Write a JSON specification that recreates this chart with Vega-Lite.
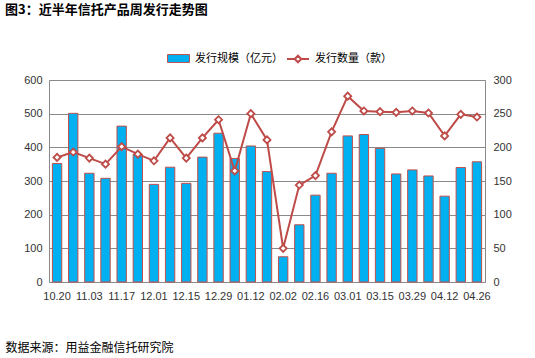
{
  "$schema": "https://vega.github.io/schema/vega-lite/v6.json",
  "width": 436,
  "height": 202,
  "autosize": {"type": "none"},
  "padding": {"left": 49, "top": 80, "right": 50, "bottom": 76},
  "background": "white",
  "config": {
    "view": {"stroke": "#8a8a8a", "strokeWidth": 1},
    "axis": {"labelFont": "Liberation Sans", "labelFontSize": 11, "labelColor": "#333333", "ticks": false, "domain": false},
    "legend": {"labelFont": "Noto Sans CJK SC", "labelFontSize": 11, "labelColor": "#000000", "labelOffset": 5, "symbolSize": 484, "title": null, "orient": "none"}
  },
  "title": {
    "text": "图3：近半年信托产品周发行走势图",
    "anchor": "start",
    "frame": "group",
    "dx": -44,
    "offset": 30,
    "font": "Noto Sans CJK SC",
    "fontSize": 13,
    "fontWeight": "bold",
    "color": "#000000"
  },
  "data": {
    "values": [
      {"week": "10.20", "scale": 352, "count": 185},
      {"week": "10.27", "scale": 501, "count": 193},
      {"week": "11.03", "scale": 323, "count": 184},
      {"week": "11.10", "scale": 308, "count": 175},
      {"week": "11.17", "scale": 463, "count": 201},
      {"week": "11.24", "scale": 379, "count": 190},
      {"week": "12.01", "scale": 290, "count": 180},
      {"week": "12.08", "scale": 341, "count": 214},
      {"week": "12.15", "scale": 293, "count": 184},
      {"week": "12.22", "scale": 371, "count": 214},
      {"week": "12.29", "scale": 442, "count": 241},
      {"week": "01.05", "scale": 367, "count": 165},
      {"week": "01.12", "scale": 404, "count": 250},
      {"week": "01.19", "scale": 328, "count": 211},
      {"week": "02.02", "scale": 75, "count": 50},
      {"week": "02.09", "scale": 170, "count": 144},
      {"week": "02.16", "scale": 258, "count": 158},
      {"week": "02.23", "scale": 323, "count": 223},
      {"week": "03.01", "scale": 434, "count": 276},
      {"week": "03.08", "scale": 438, "count": 254},
      {"week": "03.15", "scale": 397, "count": 253},
      {"week": "03.22", "scale": 321, "count": 252},
      {"week": "03.29", "scale": 333, "count": 254},
      {"week": "04.05", "scale": 315, "count": 251},
      {"week": "04.12", "scale": 255, "count": 217},
      {"week": "04.19", "scale": 340, "count": 249},
      {"week": "04.26", "scale": 357, "count": 245}
    ]
  },
  "encoding": {
    "x": {
      "field": "week",
      "type": "ordinal",
      "sort": null,
      "scale": {"paddingInner": 0, "paddingOuter": 0},
      "axis": {
        "values": ["10.20", "11.03", "11.17", "12.01", "12.15", "12.29", "01.12", "02.02", "02.16", "03.01", "03.15", "03.29", "04.12", "04.26"],
        "labelAngle": 0,
        "labelPadding": 8,
        "grid": false,
        "title": "数据来源：用益金融信托研究院",
        "titleFont": "Noto Sans CJK SC",
        "titleFontSize": 12,
        "titleFontWeight": "normal",
        "titleColor": "#000000",
        "titleAnchor": "start",
        "titleAlign": "left",
        "titleBaseline": "middle",
        "titleX": -44,
        "titleY": 65
      }
    }
  },
  "layer": [
    {
      "mark": {"type": "bar", "width": {"band": 0.58}, "stroke": "#C0504D", "strokeWidth": 1},
      "encoding": {
        "y": {
          "field": "scale",
          "type": "quantitative",
          "scale": {"domain": [0, 600]},
          "axis": {"orient": "left", "values": [0, 100, 200, 300, 400, 500, 600], "grid": true, "gridColor": "#8a8a8a", "gridWidth": 1, "gridOpacity": 1, "labelPadding": 7, "title": null}
        },
        "fill": {
          "datum": "发行规模（亿元）",
          "scale": {"domain": ["发行规模（亿元）"], "range": ["#00B0F0"]},
          "legend": {
            "legendX": 118,
            "legendY": -33,
            "symbolType": "M-1,-0.36H1V0.36H-1Z",
            "symbolStrokeColor": "#C0504D",
            "symbolStrokeWidth": 1,
            "symbolOpacity": 1
          }
        }
      }
    },
    {
      "encoding": {
        "y": {
          "field": "count",
          "type": "quantitative",
          "scale": {"domain": [0, 300]},
          "axis": {"orient": "right", "values": [0, 50, 100, 150, 200, 250, 300], "grid": false, "labelPadding": 8, "title": null}
        }
      },
      "layer": [
        {
          "mark": {"type": "line", "strokeWidth": 2},
          "encoding": {
            "stroke": {
              "datum": "发行数量（款）",
              "scale": {"domain": ["发行数量（款）"], "range": ["#BE4B48"]},
              "legend": {
                "legendX": 237,
                "legendY": -33,
                "symbolType": "M-1,0H-0.3M0.3,0H1M0,-0.3L0.3,0L0,0.3L-0.3,0Z",
                "symbolFillColor": "#ffffff",
                "symbolStrokeWidth": 2,
                "symbolOpacity": 1
              }
            }
          }
        },
        {
          "mark": {"type": "point", "shape": "diamond", "filled": true, "fill": "#ffffff", "stroke": "#BE4B48", "strokeWidth": 1.8, "size": 50, "opacity": 1},
          "encoding": {}
        }
      ]
    }
  ],
  "resolve": {"scale": {"y": "independent"}}
}
